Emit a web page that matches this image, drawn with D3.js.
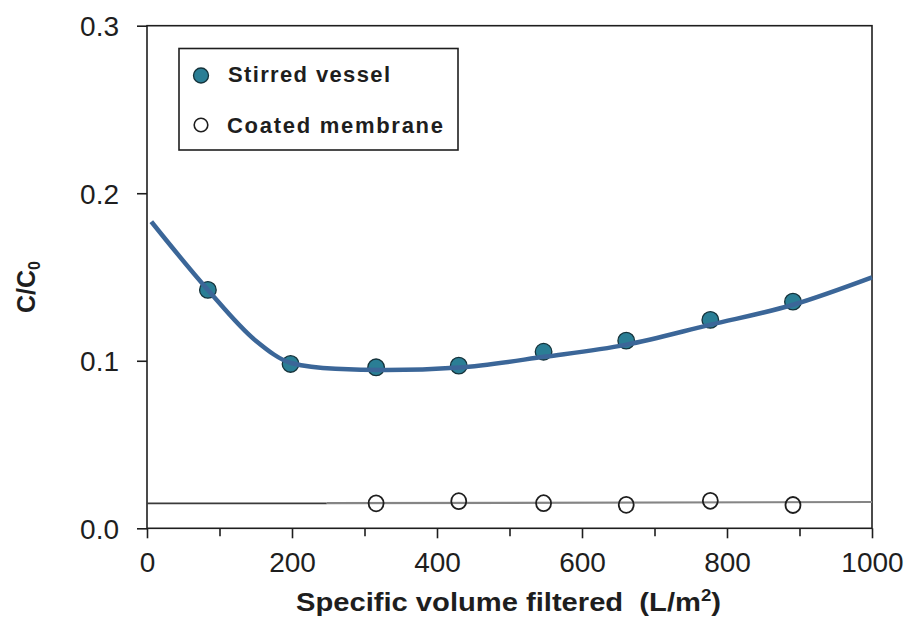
<!DOCTYPE html>
<html>
<head>
<meta charset="utf-8">
<script src="https://cdn.jsdelivr.net/npm/d3@7"></script>
<style>
  html, body { margin: 0; padding: 0; background: #fff; }
  svg { display: block; font-family: Arial, "Liberation Sans", sans-serif; }
</style>
</head>
<body>
<svg id="chart" width="907" height="619"></svg>
<script>
// Measured samples: specific volume filtered (L/m2) vs C/C0
const volumes = [84, 198, 316, 430, 547, 661, 777, 891];
const stirredValues = [0.1423, 0.0981, 0.0961, 0.0971, 0.1054, 0.1120, 0.1244, 0.1353];
const coatedValues = [null, null, 0.0149, 0.0162, 0.0150, 0.0140, 0.0164, 0.0139];

// Smooth trend drawn through the stirred-vessel samples
const fitX = [6, 84, 150, 200, 260, 330, 430, 550, 660, 776, 890, 1000];
const fitY = [0.183, 0.1423, 0.1120, 0.0985, 0.0952, 0.0945, 0.0960, 0.1025, 0.1095, 0.1214, 0.1333, 0.1498];

// Baseline level for the coated membrane (control segment, then measured segment)
const baseX = [0, 248];
const baseY = [0.0149, 0.0149];
const coatedFitX = [248, 1000];
const coatedFitY = [0.0150, 0.0157];

const xTicks = [0, 100, 200, 300, 400, 500, 600, 700, 800, 900, 1000];
const yTicks = [0, 0.1, 0.2, 0.3];
const seriesNames = ["Stirred vessel", "Coated membrane"];

const svg = d3.select("#chart");
const x = d3.scaleLinear().domain([0, 1000]).range([147, 872]);
const y = d3.scaleLinear().domain([0, 0.3]).range([528.3, 25.7]);

const ink = "#1e1e1e";
const teal = "#2a7e95";
const curveBlue = "#3b6698";

// X axis
const gx = svg.append("g")
  .attr("transform", `translate(0,${y(0)})`)
  .call(d3.axisBottom(x).tickValues(xTicks).tickSizeOuter(0).tickSize(10)
    .tickFormat(d => d % 200 === 0 ? d : ""));
gx.select(".domain").remove();
gx.selectAll(".tick line").attr("stroke", ink).attr("stroke-width", 1.6)
  .attr("y2", d => d % 200 === 0 ? 10 : 8);
gx.selectAll(".tick text").attr("fill", ink).attr("font-size", 28)
  .attr("font-family", "Arial, 'Liberation Sans', sans-serif").attr("dy", null).attr("y", 44);

// Y axis
const gy = svg.append("g")
  .attr("transform", `translate(${x(0)},0)`)
  .call(d3.axisLeft(y).tickValues(yTicks).tickSizeOuter(0).tickSize(10).tickFormat(d3.format(".1f")));
gy.select(".domain").remove();
gy.selectAll(".tick line").attr("stroke", ink).attr("stroke-width", 1.6);
gy.selectAll(".tick text").attr("fill", ink).attr("font-size", 28)
  .attr("font-family", "Arial, 'Liberation Sans', sans-serif").attr("x", -28).attr("dy", "0.35em");

// Plot frame
svg.append("rect")
  .attr("x", x(0)).attr("y", y(0.3))
  .attr("width", x(1000) - x(0)).attr("height", y(0) - y(0.3))
  .attr("fill", "none").attr("stroke", ink).attr("stroke-width", 1.6);

// Coated membrane level lines
const lineGen = d3.line().x(d => x(d[0])).y(d => y(d[1]));
svg.append("path")
  .attr("d", lineGen(baseX.map((v, i) => [v, baseY[i]])))
  .attr("fill", "none").attr("stroke", "#3a3a3a").attr("stroke-width", 1.8);
svg.append("path")
  .attr("d", lineGen(coatedFitX.map((v, i) => [v, coatedFitY[i]])))
  .attr("fill", "none").attr("stroke", "#858585").attr("stroke-width", 2.2);

// Coated membrane markers
svg.append("g").selectAll("ellipse")
  .data(volumes.map((v, i) => [v, coatedValues[i]]).filter(d => d[1] !== null))
  .join("ellipse")
  .attr("cx", d => x(d[0])).attr("cy", d => y(d[1]))
  .attr("rx", 7.5).attr("ry", 8)
  .attr("fill", "none").attr("stroke", ink).attr("stroke-width", 1.8);

// Stirred vessel markers
svg.append("g").selectAll("circle")
  .data(volumes.map((v, i) => [v, stirredValues[i]]))
  .join("circle")
  .attr("cx", d => x(d[0])).attr("cy", d => y(d[1]))
  .attr("r", 8.3)
  .attr("fill", teal).attr("stroke", "#15323a").attr("stroke-width", 1.3);

// Stirred vessel trend
svg.append("path")
  .attr("d", d3.line().x(d => x(d[0])).y(d => y(d[1])).curve(d3.curveMonotoneX)(fitX.map((v, i) => [v, fitY[i]])))
  .attr("fill", "none").attr("stroke", curveBlue).attr("stroke-width", 4.5)
  .attr("stroke-linecap", "butt");

// Legend
const lg = svg.append("g");
lg.append("rect").attr("x", 179).attr("y", 48.5).attr("width", 279).attr("height", 101.5)
  .attr("fill", "#fff").attr("stroke", ink).attr("stroke-width", 1.6);
lg.append("circle").attr("cx", 201).attr("cy", 75.5).attr("r", 7.5)
  .attr("fill", teal).attr("stroke", "#15323a").attr("stroke-width", 1.3);
lg.append("circle").attr("cx", 201).attr("cy", 125).attr("r", 6.8)
  .attr("fill", "#fff").attr("stroke", ink).attr("stroke-width", 1.6);
lg.append("text").attr("x", 228).attr("y", 82).text(seriesNames[0])
  .attr("font-size", 22).attr("font-weight", "bold").attr("fill", ink)
  .attr("textLength", 162).attr("lengthAdjust", "spacing");
lg.append("text").attr("x", 227).attr("y", 133).text(seriesNames[1])
  .attr("font-size", 22).attr("font-weight", "bold").attr("fill", ink)
  .attr("textLength", 216).attr("lengthAdjust", "spacing");

// Axis titles
svg.append("text")
  .attr("x", 296).attr("y", 611)
  .attr("font-size", 25).attr("font-weight", "bold").attr("fill", ink)
  .attr("textLength", 425).attr("lengthAdjust", "spacingAndGlyphs")
  .call(t => {
    t.append("tspan").text("Specific volume filtered\u00a0\u00a0(L/m");
    t.append("tspan").text("2").attr("font-size", 16).attr("dy", -10);
    t.append("tspan").text(")").attr("dy", 10);
  });

svg.append("text")
  .attr("transform", "translate(35,313) rotate(-90)")
  .attr("font-size", 25).attr("font-weight", "bold").attr("fill", ink)
  .call(t => {
    t.append("tspan").text("C/C");
    t.append("tspan").text("0").attr("font-size", 16).attr("dy", 5);
  });
</script>
</body>
</html>
